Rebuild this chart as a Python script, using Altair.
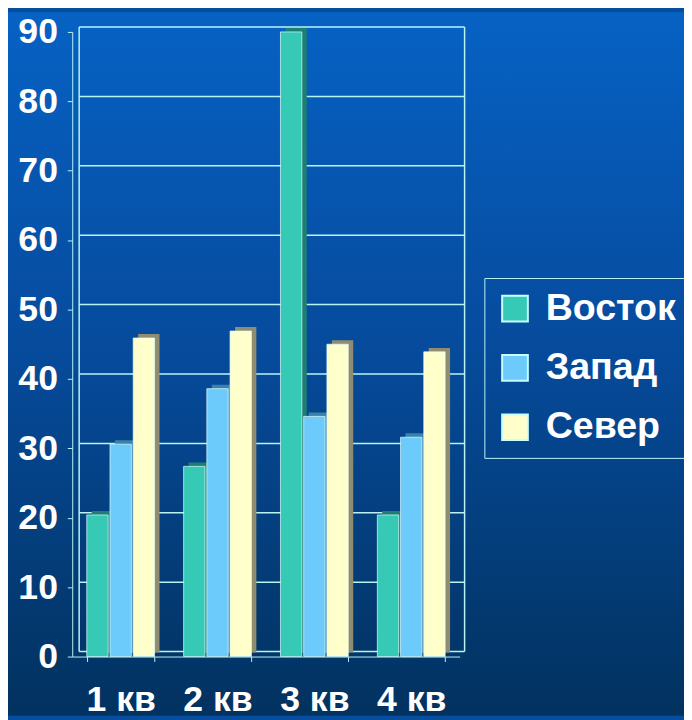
import altair as alt
import pandas as pd

quarters = ["1 кв", "2 кв", "3 кв", "4 кв"]
series = ["Восток", "Запад", "Север"]
vostok = [20.4, 27.4, 90, 20.4]
zapad = [30.6, 38.6, 34.6, 31.6]
sever = [45.9, 46.9, 45, 43.9]
colors = ["#36c9b6", "#6ccbfa", "#ffffcc"]
side_colors = ["#1d7f74", "#3a82aa", "#8f8c70"]
y_ticks = list(range(0, 100, 10))

rows = []
for s, vals in zip(series, [vostok, zapad, sever]):
    for q, v in zip(quarters, vals):
        rows.append({"quarter": q, "series": s, "side": s + " ", "value": v})
df = pd.DataFrame(rows)

W, H = 392, 632
PAD = {"left": 65, "top": 20, "right": 684 - 65 - W, "bottom": 712 - 20 - H}
LINE = "#b8f4f4"
FONT = "Liberation Sans"
STEP = W / 4.0
BAND = STEP * 0.7
DX, DY = 5, -4

y_scale = alt.Scale(domain=[0, 90], nice=False)
y_axis = alt.Axis(title=None, values=y_ticks, domainColor=LINE, tickColor=LINE,
                  tickSize=5, labelPadding=10, grid=False,
                  labelFont=FONT, labelFontSize=36, labelFontWeight="bold",
                  labelColor="white", zindex=1)

bg = alt.Chart(pd.DataFrame({"a": [0]})).mark_rect(
    color=alt.LinearGradient(
        gradient="linear", x1=0, x2=0, y1=0, y2=1,
        stops=[alt.GradientStop(offset=0, color="#0662c4"),
               alt.GradientStop(offset=0.45, color="#064c9f"),
               alt.GradientStop(offset=1, color="#02325f")]
    )
).encode(
    x=alt.value(-PAD["left"]), x2=alt.value(W + PAD["right"]),
    y=alt.value(-PAD["top"]), y2=alt.value(H + PAD["bottom"])
)

grid = alt.Chart(pd.DataFrame({"v": y_ticks})).mark_rule(
    color=LINE, strokeWidth=1.5, yOffset=-5
).encode(
    y=alt.Y("v:Q", scale=y_scale, axis=y_axis),
    x=alt.value(7), x2=alt.value(W + 5),
)
wall_left = alt.Chart(pd.DataFrame({"a": [0]})).mark_rule(
    color=LINE, strokeWidth=1.5, yOffset=-5, y2Offset=-5
).encode(x=alt.value(7), y=alt.datum(0), y2=alt.datum(90))
wall_right = alt.Chart(pd.DataFrame({"a": [0]})).mark_rule(
    color=LINE, strokeWidth=1.5, yOffset=-5, y2Offset=-5
).encode(x=alt.value(W + 5), y=alt.datum(0), y2=alt.datum(90))

x_enc = alt.X(
    "quarter:N", sort=quarters,
    scale=alt.Scale(paddingInner=0.3, paddingOuter=0.15),
    axis=alt.Axis(title=None, labelAngle=0, tickBand="extent", domainColor=LINE,
                  tickColor=LINE, tickSize=5, labelPadding=22, labelFont=FONT,
                  labelFontSize=36, labelFontWeight="bold", labelColor="white",
                  zindex=1),
)
y_enc = alt.Y("value:Q", scale=y_scale, axis=y_axis)

base = alt.Chart(df)
side = base.mark_bar(yOffset=DY).encode(
    x=x_enc,
    xOffset=alt.XOffset("series:N", sort=series,
                        scale=alt.Scale(paddingInner=0.08, range=[DX, BAND + DX])),
    y=y_enc,
    fill=alt.Fill("side:N", scale=alt.Scale(domain=[s + " " for s in series],
                                            range=side_colors), legend=None),
)
front = base.mark_bar(stroke="#e0ffff", strokeWidth=1, strokeOpacity=0.7).encode(
    x=x_enc,
    xOffset=alt.XOffset("series:N", sort=series,
                        scale=alt.Scale(paddingInner=0.08, range=[0, BAND])),
    y=y_enc,
    color=alt.Color(
        "series:N", scale=alt.Scale(domain=series, range=colors),
        legend=alt.Legend(
            title=None, orient="none", legendX=417, legendY=249,
            symbolType="square", symbolSize=676, symbolStrokeWidth=2,
            symbolStrokeColor="#c8ffff", symbolOpacity=1, labelFont=FONT,
            labelFontSize=38, labelFontWeight="bold", labelColor="white",
            strokeColor=LINE, padding=12, rowPadding=22, labelOffset=12,
            labelLimit=400, zindex=1,
        ),
    ),
)

chart = alt.layer(bg, grid, wall_left, wall_right, side, front).resolve_scale(
    xOffset="independent"
).properties(
    width=W, height=H,
    autosize=alt.AutoSizeParams(type="none"),
    padding=PAD,
).configure(background="#064c9f").configure_view(strokeWidth=0)

chart.save("out.html", embed_options={"renderer": "svg", "actions": False})
